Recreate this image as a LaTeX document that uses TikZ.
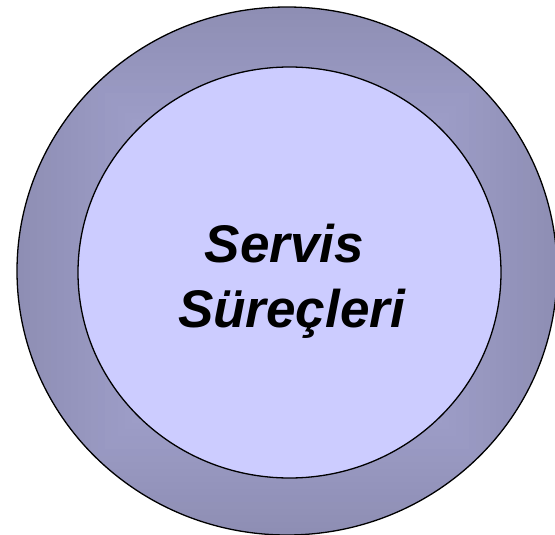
\documentclass[tikz,border=0pt]{standalone}
\usepackage{fontspec}
\setmainfont{Liberation Sans}
\definecolor{ringA}{HTML}{8E8EB4}
\definecolor{ringB}{HTML}{A4A4D0}
\definecolor{innerfill}{HTML}{CCCCFF}
\tikzset{
  ringline/.style={draw=black, line width=1.3pt},
  title/.style={font=\fontsize{53}{60}\selectfont\bfseries\itshape, inner sep=0pt, anchor=base}
}
\begin{document}
\begin{tikzpicture}[x=1pt,y=-1pt]
\useasboundingbox (0,0) rectangle (555,535);
\begin{scope}
  \clip (287,271) ellipse [x radius=270, y radius=264];
  \foreach \i in {0,...,26}{
    \pgfmathsetmacro\f{1-\i/40}
    \pgfmathsetmacro\p{min(100,\i*4)}
    \fill[ringB!\p!ringA] ({287-270*\f},{271-264*\f}) rectangle ({287+270*\f},{271+264*\f});
  }
\end{scope}
\draw[ringline] (287,271) ellipse [x radius=270, y radius=264];
\draw[ringline, fill=innerfill] (289.5,272.5) ellipse [x radius=211.5, y radius=205.5];
\node[title] (l1) at (284.5,262) {Servis};
\node[title] (l2) at (291.5,327) {Süreçleri};
\end{tikzpicture}
\end{document}
